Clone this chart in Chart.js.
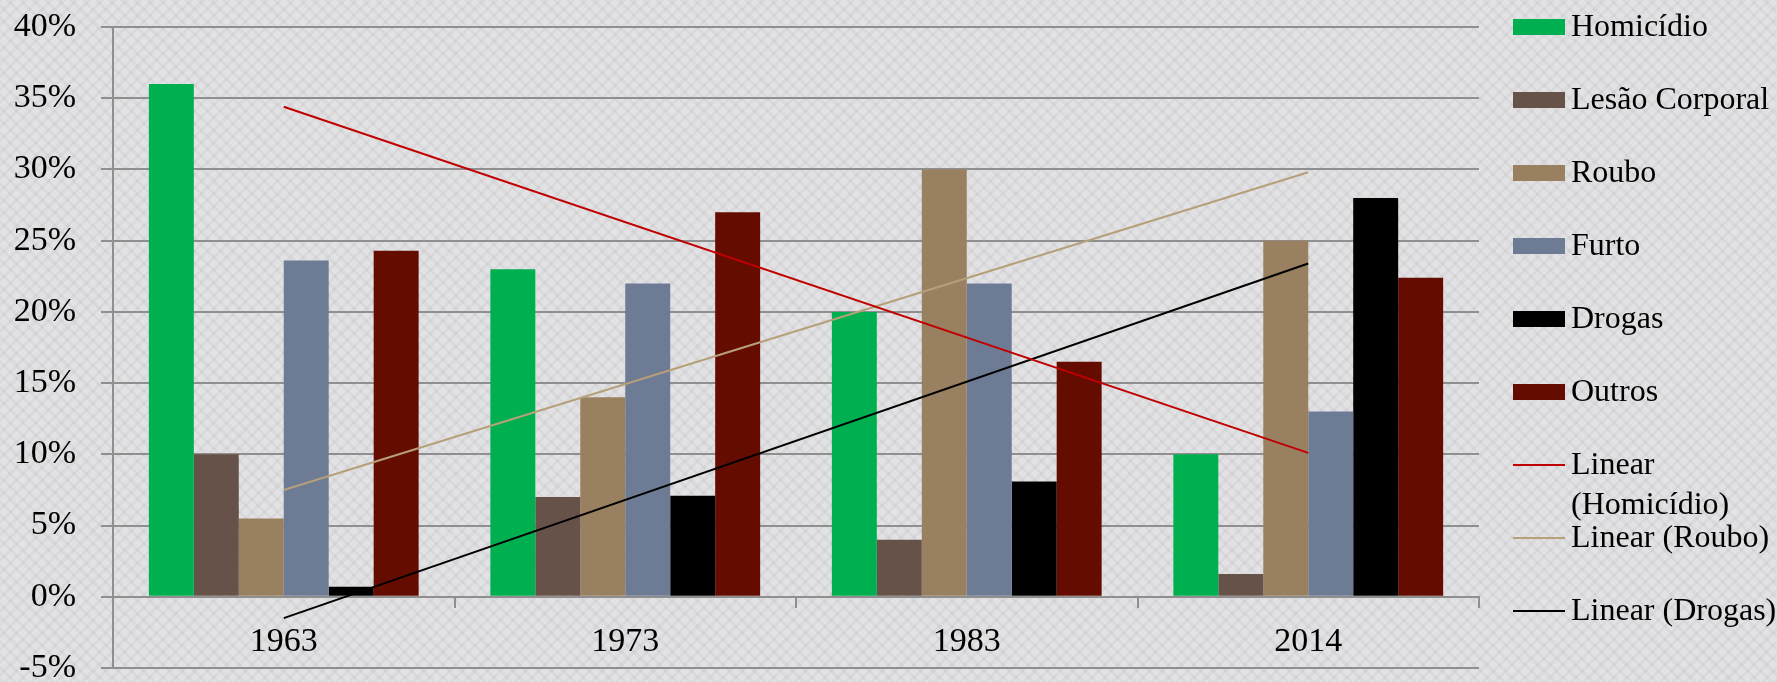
<!DOCTYPE html>
<html>
<head>
<meta charset="utf-8">
<script src="https://cdn.jsdelivr.net/npm/chart.js@4"></script>
<style>
  html, body { margin: 0; padding: 0; }
  body {
    background-color: #e2e2e4;
    background-image:
      repeating-linear-gradient(45deg, rgba(0,0,0,0.035) 0 3px, transparent 3px 9px),
      repeating-linear-gradient(-45deg, rgba(0,0,0,0.035) 0 3px, transparent 3px 9px);
  }
  #wrap { width: 1777px; height: 682px; position: relative; }
</style>
</head>
<body>
<div id="wrap"><canvas id="myChart"></canvas></div>
<script>
// values (percent)
var years = ['1963', '1973', '1983', '2014'];
var homicidio = [36, 23, 20, 10];
var lesaoCorporal = [10, 7, 4, 1.6];
var roubo = [5.5, 14, 30, 25];
var furto = [23.6, 22, 22, 13];
var drogas = [0.7, 7.1, 8.1, 28];
var outros = [24.3, 27, 16.5, 22.4];

// trend line ends (first and last category)
var trendHomicidio = [34.4, null, null, 10.1];
var trendRoubo = [7.5, null, null, 29.8];
var trendDrogas = [-1.5, null, null, 23.4];

var yTicks = [-5, 0, 5, 10, 15, 20, 25, 30, 35, 40];

var serif = '"Liberation Serif", "Times New Roman", serif';
var gridColor = '#8f8f8f';

function barSet(label, data, color) {
    return {
        type: 'bar',
        label: label,
        data: data,
        backgroundColor: color,
        borderWidth: 0,
        order: 2
    };
}

function trendSet(label, data, color) {
    return {
        type: 'line',
        label: label,
        data: data,
        borderColor: color,
        borderWidth: 2,
        pointRadius: 0,
        spanGaps: true,
        fill: false,
        order: 1
    };
}

var legendItems = [
    { text: ['Homicídio'], color: '#00b050', kind: 'box' },
    { text: ['Lesão Corporal'], color: '#665249', kind: 'box' },
    { text: ['Roubo'], color: '#998060', kind: 'box' },
    { text: ['Furto'], color: '#6e7b95', kind: 'box' },
    { text: ['Drogas'], color: '#000000', kind: 'box' },
    { text: ['Outros'], color: '#640c00', kind: 'box' },
    { text: ['Linear', '(Homicídio)'], color: '#c00000', kind: 'line' },
    { text: ['Linear (Roubo)'], color: '#b5a07a', kind: 'line' },
    { text: ['Linear (Drogas)'], color: '#000000', kind: 'line' }
];

var sideLegend = {
    id: 'sideLegend',
    afterDraw: function (chart) {
        var ctx = chart.ctx;
        var x0 = 1513;
        ctx.save();
        ctx.font = '32px ' + serif;
        ctx.textBaseline = 'middle';
        ctx.textAlign = 'left';
        legendItems.forEach(function (item, i) {
            var y = 27 + i * 73;
            if (item.kind === 'box') {
                ctx.fillStyle = item.color;
                ctx.fillRect(x0, y - 8, 52, 16);
            } else {
                ctx.strokeStyle = item.color;
                ctx.lineWidth = 2;
                ctx.beginPath();
                ctx.moveTo(x0, y);
                ctx.lineTo(x0 + 52, y);
                ctx.stroke();
            }
            ctx.fillStyle = '#000';
            item.text.forEach(function (line, j) {
                ctx.fillText(line, x0 + 58, y + 1 + j * 40);
            });
        });
        ctx.restore();
    }
};

var ctx = document.getElementById('myChart').getContext('2d');
var myChart = new Chart(ctx, {
    data: {
        labels: years,
        datasets: [
            barSet('Homicídio', homicidio, '#00b050'),
            barSet('Lesão Corporal', lesaoCorporal, '#665249'),
            barSet('Roubo', roubo, '#998060'),
            barSet('Furto', furto, '#6e7b95'),
            barSet('Drogas', drogas, '#000000'),
            barSet('Outros', outros, '#640c00'),
            trendSet('Linear (Homicídio)', trendHomicidio, '#c00000'),
            trendSet('Linear (Roubo)', trendRoubo, '#b5a07a'),
            trendSet('Linear (Drogas)', trendDrogas, '#000000')
        ]
    },
    options: {
        responsive: true,
        maintainAspectRatio: false,
        animation: false,
        datasets: {
            bar: { categoryPercentage: 0.79, barPercentage: 1.0 }
        },
        layout: {
            padding: { left: 14, right: 298, top: 27, bottom: 14 }
        },
        plugins: {
            legend: { display: false },
            tooltip: { enabled: false }
        },
        scales: {
            x: {
                position: { y: 0 },
                offset: true,
                afterFit: function (scale) { scale.height = 0; },
                grid: {
                    offset: true,
                    drawOnChartArea: false,
                    drawTicks: true,
                    tickLength: 10,
                    color: gridColor,
                    lineWidth: 2
                },
                border: { display: true, color: gridColor, width: 2 },
                ticks: {
                    color: '#000',
                    padding: 15,
                    font: { family: serif, size: 34 }
                }
            },
            y: {
                min: -5,
                max: 40,
                afterBuildTicks: function (scale) {
                    scale.ticks = yTicks.map(function (v) { return { value: v }; });
                },
                afterFit: function (scale) {
                    scale.width = 99;
                    scale.paddingTop = 0;
                    scale.paddingBottom = 0;
                },
                grid: {
                    color: gridColor,
                    lineWidth: 2,
                    tickLength: 12
                },
                border: { display: true, color: gridColor, width: 2 },
                ticks: {
                    color: '#000',
                    padding: 25,
                    font: { family: serif, size: 34 },
                    callback: function (v) { return v + '%'; }
                }
            }
        }
    },
    plugins: [sideLegend]
});
</script>
</body>
</html>
